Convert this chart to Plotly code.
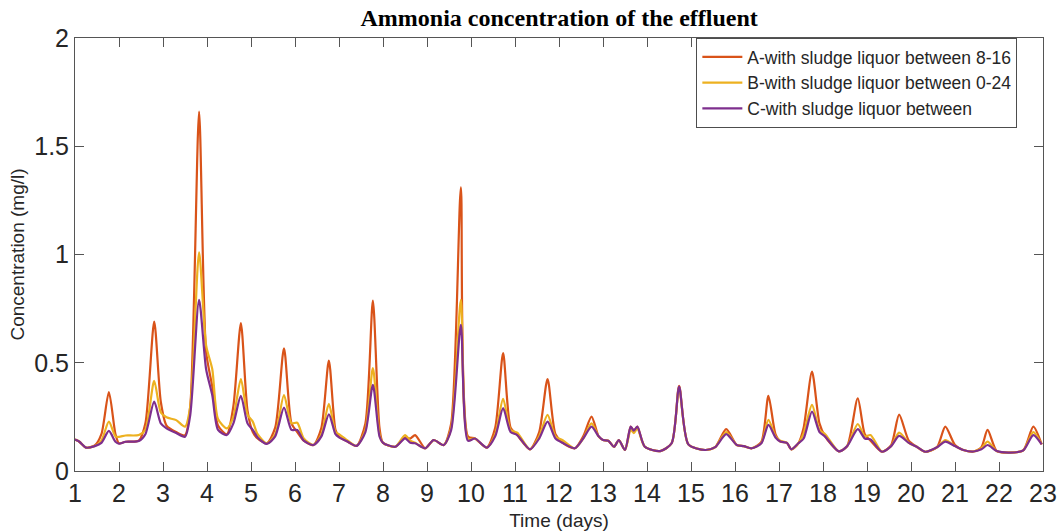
import plotly.graph_objects as go

days = [1.00, 1.10, 1.25, 1.45, 1.60, 1.77, 1.92, 2.00, 2.15, 2.45, 2.60, 2.80, 2.95, 3.08, 3.30, 3.50,
        3.62, 3.82, 3.98, 4.12, 4.25, 4.45, 4.60, 4.77, 4.92, 5.04, 5.15, 5.36, 5.55, 5.75, 5.92, 6.05,
        6.20, 6.42, 6.60, 6.77, 6.92, 7.00, 7.20, 7.40, 7.60, 7.77, 7.92, 8.00, 8.28, 8.50, 8.62, 8.73,
        8.96, 9.15, 9.38, 9.55, 9.77, 9.93, 10.09, 10.36, 10.55, 10.73, 10.90, 11.05, 11.34, 11.55, 11.74,
        11.92, 12.10, 12.36, 12.55, 12.74, 12.90, 13.00, 13.12, 13.25, 13.36, 13.50, 13.63, 13.70, 13.78,
        13.95, 14.30, 14.56, 14.73, 14.94, 15.32, 15.55, 15.80, 16.04, 16.20, 16.38, 16.60, 16.76, 16.92,
        17.03, 17.18, 17.28, 17.44, 17.56, 17.75, 17.92, 18.05, 18.36, 18.55, 18.79, 18.95, 19.08, 19.34,
        19.55, 19.73, 19.95, 20.13, 20.32, 20.59, 20.78, 21.00, 21.19, 21.42, 21.60, 21.74, 21.95, 22.25,
        22.55, 22.78, 22.97]

series_a = [0.145, 0.135, 0.108, 0.118, 0.17, 0.365, 0.17, 0.128, 0.135, 0.14, 0.22, 0.69, 0.32, 0.21, 0.18, 0.165,
            0.30, 1.66, 0.55, 0.39, 0.21, 0.17, 0.30, 0.683, 0.28, 0.18, 0.15, 0.128, 0.20, 0.567, 0.22, 0.18,
            0.14, 0.12, 0.20, 0.51, 0.19, 0.159, 0.135, 0.116, 0.22, 0.787, 0.20, 0.13, 0.112, 0.155, 0.15, 0.166,
            0.105, 0.143, 0.12, 0.22, 1.31, 0.16, 0.15, 0.108, 0.20, 0.544, 0.20, 0.166, 0.10, 0.18, 0.425,
            0.17, 0.128, 0.105, 0.16, 0.251, 0.16, 0.143, 0.14, 0.112, 0.143, 0.097, 0.205, 0.186, 0.205,
            0.112, 0.092, 0.128, 0.393, 0.123, 0.097, 0.11, 0.193, 0.12, 0.115, 0.105, 0.135, 0.347, 0.17,
            0.136, 0.13, 0.10, 0.128, 0.20, 0.459, 0.22, 0.159, 0.091, 0.115, 0.336, 0.17, 0.14, 0.089,
            0.12, 0.26, 0.14, 0.112, 0.089, 0.11, 0.205, 0.12, 0.097, 0.09, 0.11, 0.19, 0.092, 0.085,
            0.095, 0.205, 0.123]

series_b = [0.145, 0.135, 0.108, 0.115, 0.14, 0.228, 0.16, 0.158, 0.164, 0.166, 0.19, 0.416, 0.27, 0.248, 0.235, 0.205,
            0.30, 1.01, 0.58, 0.47, 0.24, 0.197, 0.25, 0.425, 0.26, 0.228, 0.17, 0.128, 0.17, 0.351, 0.22, 0.223,
            0.15, 0.12, 0.17, 0.31, 0.18, 0.17, 0.14, 0.116, 0.19, 0.475, 0.17, 0.13, 0.112, 0.166, 0.14, 0.13,
            0.105, 0.143, 0.12, 0.20, 0.79, 0.15, 0.15, 0.108, 0.17, 0.333, 0.19, 0.177, 0.10, 0.16, 0.259,
            0.16, 0.14, 0.105, 0.15, 0.22, 0.16, 0.143, 0.14, 0.112, 0.143, 0.097, 0.19, 0.175, 0.195,
            0.112, 0.092, 0.128, 0.385, 0.123, 0.097, 0.11, 0.18, 0.12, 0.115, 0.105, 0.13, 0.236, 0.16,
            0.14, 0.13, 0.10, 0.128, 0.174, 0.305, 0.19, 0.17, 0.091, 0.115, 0.217, 0.16, 0.166, 0.089,
            0.115, 0.177, 0.13, 0.112, 0.089, 0.11, 0.143, 0.115, 0.097, 0.09, 0.105, 0.136, 0.092, 0.085,
            0.095, 0.18, 0.123]

series_c = [0.145, 0.135, 0.108, 0.115, 0.13, 0.185, 0.135, 0.126, 0.135, 0.138, 0.17, 0.32, 0.22, 0.197, 0.175, 0.158,
            0.26, 0.79, 0.47, 0.35, 0.19, 0.166, 0.22, 0.347, 0.22, 0.19, 0.155, 0.125, 0.16, 0.293, 0.19, 0.19,
            0.14, 0.12, 0.16, 0.262, 0.17, 0.155, 0.135, 0.116, 0.18, 0.398, 0.16, 0.13, 0.112, 0.151, 0.13, 0.128,
            0.105, 0.143, 0.12, 0.19, 0.675, 0.14, 0.15, 0.108, 0.16, 0.29, 0.18, 0.166, 0.10, 0.15, 0.228,
            0.15, 0.128, 0.105, 0.15, 0.205, 0.16, 0.143, 0.14, 0.112, 0.143, 0.097, 0.205, 0.186, 0.205,
            0.112, 0.092, 0.128, 0.39, 0.123, 0.097, 0.11, 0.17, 0.12, 0.115, 0.105, 0.128, 0.213, 0.155,
            0.136, 0.13, 0.10, 0.128, 0.15, 0.274, 0.18, 0.159, 0.091, 0.115, 0.193, 0.15, 0.146, 0.089,
            0.115, 0.162, 0.13, 0.112, 0.089, 0.11, 0.136, 0.115, 0.097, 0.09, 0.10, 0.12, 0.092, 0.085,
            0.095, 0.166, 0.123]

names = ["A-with sludge liquor between 8-16",
         "B-with sludge liquor between 0-24",
         "C-with sludge liquor between"]
colors = ["#D95319", "#EDB120", "#7E2F8E"]

x_ticks = list(range(1, 24))
y_ticks = [0, 0.5, 1, 1.5, 2]
y_tick_labels = ["0", "0.5", "1", "1.5", "2"]

fig = go.Figure()
for name, vals, col in zip(names, [series_a, series_b, series_c], colors):
    fig.add_trace(go.Scatter(
        x=days, y=vals, mode="lines", name=name,
        line=dict(color=col, width=2.2, shape="spline", smoothing=0.7),
    ))

axis_common = dict(
    showline=True, linecolor="#555555", linewidth=1, mirror="ticks",
    ticks="inside", ticklen=9, tickcolor="#555555", tickwidth=1,
    showgrid=False, zeroline=False, automargin=False,
    tickfont=dict(family="Liberation Sans, Arial", size=25, color="#262626"),
)

fig.update_layout(
    width=1059, height=531,
    margin=dict(l=75, r=16, t=38, b=60, autoexpand=False),
    paper_bgcolor="white", plot_bgcolor="white",
    title=dict(text="<b>Ammonia concentration of the effluent</b>",
               font=dict(family="Liberation Serif, Times New Roman", size=24, color="#000000"),
               x=0.528, xanchor="center", y=0.966, yanchor="middle"),
    xaxis=dict(range=[1, 23], tickvals=x_ticks, ticktext=[str(t) for t in x_ticks],
               title=dict(text="Time (days)", font=dict(family="Liberation Sans, Arial", size=19, color="#262626"),
                          standoff=8),
               **axis_common),
    yaxis=dict(range=[0, 2], tickvals=y_ticks, ticktext=y_tick_labels,
               title=dict(text="Concentration (mg/l)", font=dict(family="Liberation Sans, Arial", size=19, color="#262626"),
                          standoff=4),
               **axis_common),
    legend=dict(x=0.9735, xanchor="right", y=1.0, yanchor="top",
                bgcolor="white", bordercolor="#4d4d4d", borderwidth=1,
                font=dict(family="Liberation Sans, Arial", size=17.5, color="#262626"),
                tracegroupgap=0, itemwidth=40),
    showlegend=True,
)

fig.write_html("out.html")
